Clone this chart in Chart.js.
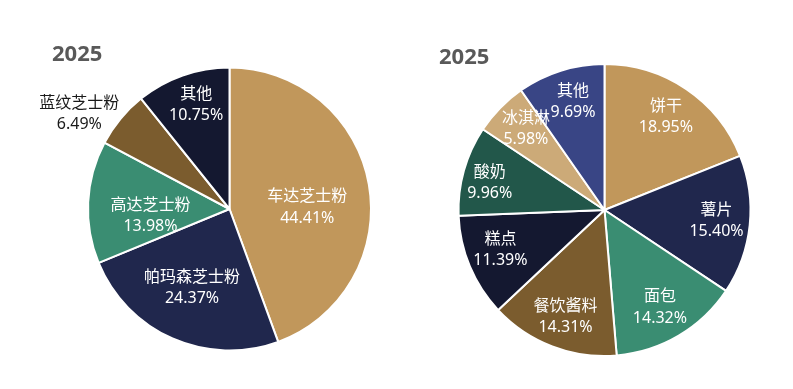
<!DOCTYPE html>
<html>
<head>
<meta charset="utf-8">
<script src="https://cdn.jsdelivr.net/npm/chart.js@4/dist/chart.umd.min.js"></script>
<style>
  html, body { margin: 0; padding: 0; background: #fff; }
  #wrap { position: relative; width: 793px; height: 389px; overflow: hidden; }
  .box { position: absolute; top: 0; height: 389px; }
  #leftBox { left: 0; width: 397px; }
  #rightBox { left: 397px; width: 396px; }
</style>
</head>
<body>
<div id="wrap">
  <div class="box" id="leftBox"><canvas id="cheeseChart"></canvas></div>
  <div class="box" id="rightBox"><canvas id="useChart"></canvas></div>
</div>
<script>
// Left pie: cheese powder types, 2025
const cheeseLabels = ["车达芝士粉", "帕玛森芝士粉", "高达芝士粉", "蓝纹芝士粉", "其他"];
const cheeseValues = [44.41, 24.37, 13.98, 6.49, 10.75];

// Right pie: downstream uses, 2025
const useLabels = ["饼干", "薯片", "面包", "餐饮酱料", "糕点", "酸奶", "冰淇淋", "其他"];
const useValues = [18.95, 15.40, 14.32, 14.31, 11.39, 9.96, 5.98, 9.69];

const yearTitle = "2025";

// colours
const tan = "#C1975B", navy = "#20274D", green = "#3A8D72", brown = "#7B5C2E",
      darkNavy = "#141830", darkGreen = "#22574A", lightTan = "#CCAA78", blue = "#394585";

// label placement per slice: radius factor and angle shift (deg, clockwise)
const cheesePlace = [
  { r: 0.55, shift: 8 }, { r: 0.61, shift: 2 }, { r: 0.56, shift: -7 },
  { r: 1.26, shift: -7, outside: true }, { r: 0.78, shift: 1.8 }
];
const usePlace = [
  { r: 0.77, shift: -1 }, { r: 0.77, shift: -1 }, { r: 0.76, shift: 0.6 }, { r: 0.77, shift: -0.7 },
  { r: 0.76, shift: 2.5 }, { r: 0.81, shift: -1.7 }, { r: 0.78, shift: 2 }, { r: 0.78, shift: 1.4 }
];

// draws category + percent text inside slices, and the year title
const pieText = {
  id: "pieText",
  afterDatasetsDraw(chart, args, opts) {
    const ctx = chart.ctx;
    const meta = chart.getDatasetMeta(0);
    const vals = chart.data.datasets[0].data;
    ctx.save();
    ctx.textAlign = "center";
    ctx.textBaseline = "middle";
    meta.data.forEach((arc, i) => {
      const p = arc.getProps(["x", "y", "startAngle", "endAngle", "outerRadius"], true);
      const pl = opts.place[i];
      const a = (p.startAngle + p.endAngle) / 2 + pl.shift * Math.PI / 180;
      const cx = p.x + Math.cos(a) * p.outerRadius * pl.r;
      const cy = p.y + Math.sin(a) * p.outerRadius * pl.r;
      ctx.fillStyle = pl.outside ? "#1a1a1a" : "#ffffff";
      ctx.font = "16px 'Noto Sans CJK SC'";
      ctx.fillText(chart.data.labels[i], cx, cy - 11);
      ctx.font = "16px 'Noto Sans'";
      ctx.fillText(vals[i].toFixed(2) + "%", cx, cy + 12);
    });
    // title
    ctx.textAlign = "left";
    ctx.textBaseline = "alphabetic";
    ctx.fillStyle = "#595959";
    ctx.font = "bold 22px 'Open Sans'";
    ctx.fillText(yearTitle, opts.titleX, opts.titleY);
    ctx.restore();
  }
};

function makePie(id, labels, values, colors, pad, place, titleX, titleY) {
  return new Chart(document.getElementById(id), {
    type: "pie",
    data: {
      labels: labels,
      datasets: [{
        data: values,
        backgroundColor: colors,
        borderColor: "#ffffff",
        borderWidth: 2
      }]
    },
    options: {
      responsive: true,
      maintainAspectRatio: false,
      animation: false,
      layout: { padding: pad },
      plugins: {
        legend: { display: false },
        tooltip: { enabled: false },
        pieText: { place: place, titleX: titleX, titleY: titleY }
      }
    },
    plugins: [pieText]
  });
}

makePie("cheeseChart", cheeseLabels, cheeseValues,
  [tan, navy, green, brown, darkNavy],
  { left: 87, right: 25, top: 66.5, bottom: 37.5 },
  cheesePlace, 52, 61);

makePie("useChart", useLabels, useValues,
  [tan, navy, green, brown, darkNavy, darkGreen, lightTan, blue],
  { left: 60.5, right: 41.5, top: 63, bottom: 32 },
  usePlace, 42, 64);
</script>
</body>
</html>
